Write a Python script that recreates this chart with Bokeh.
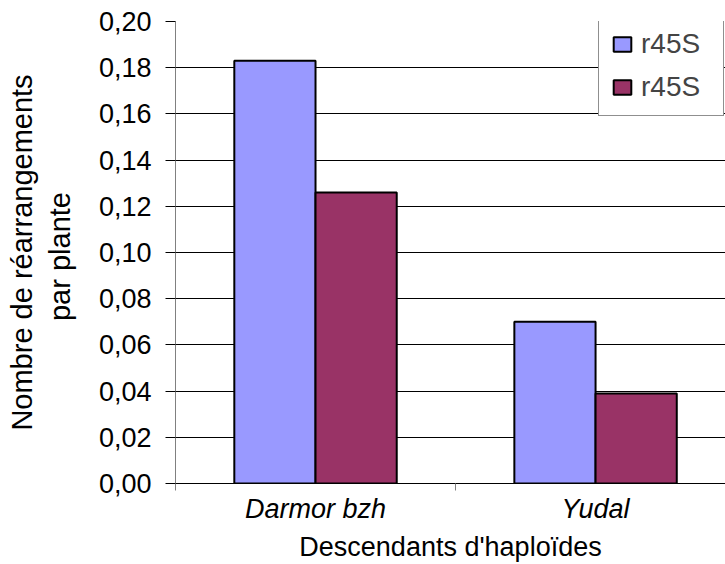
from bokeh.plotting import figure
from bokeh.models import Range1d, FixedTicker, Legend, LegendItem, ColumnDataSource
from bokeh.embed import file_html
from bokeh.resources import INLINE

categories = ["Darmor bzh", "Yudal"]
series_names = ["r45S", "r45S"]
values_a = [0.183, 0.070]
values_b = [0.126, 0.039]
y_ticks = [0.00, 0.02, 0.04, 0.06, 0.08, 0.10, 0.12, 0.14, 0.16, 0.18, 0.20]
y_tick_labels = ["0,00", "0,02", "0,04", "0,06", "0,08", "0,10", "0,12", "0,14", "0,16", "0,18", "0,20"]

FONT = "Liberation Sans"
bar_w = 0.29
centers = [i + 0.5 for i in range(len(categories))]

p = figure(width=725, height=564, output_backend="svg", toolbar_location=None,
           x_range=Range1d(0, 1.964), y_range=Range1d(0, 0.20),
           min_border_left=175, min_border_right=0, min_border_top=21, min_border_bottom=80)
p.outline_line_color = None
p.background_fill_color = "white"
p.border_fill_color = "white"

src_a = ColumnDataSource(dict(x=[c - bar_w / 2 for c in centers], top=values_a))
src_b = ColumnDataSource(dict(x=[c + bar_w / 2 for c in centers], top=values_b))
ra = p.vbar(x="x", top="top", width=bar_w, bottom=0, source=src_a,
            fill_color="#9999FF", line_color="black", line_width=2)
rb = p.vbar(x="x", top="top", width=bar_w, bottom=0, source=src_b,
            fill_color="#993366", line_color="black", line_width=2)

# grid
p.xgrid.grid_line_color = None
p.ygrid.ticker = FixedTicker(ticks=y_ticks)
p.ygrid.grid_line_color = "black"
p.ygrid.grid_line_width = 1
p.ygrid.level = "underlay"

# y axis
ya = p.yaxis[0]
ya.ticker = FixedTicker(ticks=y_ticks)
ya.major_label_overrides = {t: l for t, l in zip(y_ticks, y_tick_labels)}
ya.major_label_text_font = FONT
ya.major_label_text_font_size = "27px"
ya.major_label_text_color = "black"
ya.major_tick_out = 10
ya.major_tick_in = 0
ya.major_tick_line_color = "black"
ya.minor_tick_line_color = None
ya.major_label_standoff = 14
ya.axis_line_color = "#808080"
ya.axis_label = "Nombre de réarrangements\npar  plante"
ya.axis_label_text_font = FONT
ya.axis_label_text_font_size = "29px"
ya.axis_label_text_font_style = "normal"
ya.axis_label_text_color = "black"
ya.axis_label_standoff = 20

# x axis
xa = p.xaxis[0]
xa.ticker = FixedTicker(ticks=centers, minor_ticks=[0, 1, 2])
xa.major_label_overrides = {c: n for c, n in zip(centers, categories)}
xa.major_label_text_font = FONT
xa.major_label_text_font_size = "27px"
xa.major_label_text_font_style = "italic"
xa.major_label_text_color = "black"
xa.major_tick_out = 0
xa.major_tick_in = 0
xa.minor_tick_out = 7
xa.minor_tick_in = 0
xa.minor_tick_line_color = "#808080"
xa.major_label_standoff = 3
xa.axis_line_color = "black"
xa.axis_label = "Descendants d'haploïdes"
xa.axis_label_text_font = FONT
xa.axis_label_text_font_size = "27px"
xa.axis_label_text_font_style = "normal"
xa.axis_label_text_color = "black"
xa.axis_label_standoff = 5

legend = Legend(items=[LegendItem(label=series_names[0], renderers=[ra]),
                       LegendItem(label=series_names[1], renderers=[rb])],
                location=(423, 367), orientation="vertical",
                title=" ", title_text_font_size="6px", title_standoff=5,
                label_text_font=FONT, label_text_font_size="28px",
                glyph_width=22, glyph_height=18, label_height=30, label_width=70,
                label_standoff=8, padding=12, spacing=11,
                border_line_color="#202020", border_line_width=1,
                background_fill_color="white", background_fill_alpha=1)
p.add_layout(legend, "center")

open("out.html", "w").write(file_html(p, INLINE))
